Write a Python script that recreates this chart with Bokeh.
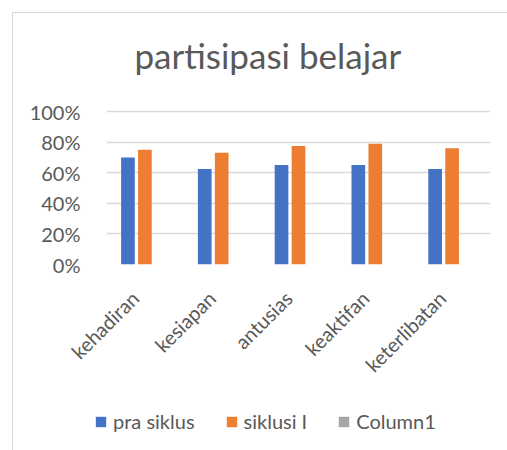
from bokeh.plotting import figure
from bokeh.models import (ColumnDataSource, Range1d, NumeralTickFormatter, Legend,
                          LegendItem, FixedTicker, LinearAxis)
from bokeh.transform import dodge
from bokeh.embed import file_html
from bokeh.resources import INLINE
import math

categories = ["kehadiran", "kesiapan", "antusias", "keaktifan", "keterlibatan"]
pra_siklus = [0.70, 0.625, 0.65, 0.65, 0.625]
siklus_1 = [0.75, 0.73, 0.775, 0.79, 0.76]
column1 = [0, 0, 0, 0, 0]
series_names = ["pra siklus", "siklusi I", "Column1"]
series_colors = ["#4472C4", "#ED7D31", "#A5A5A5"]
y_ticks = [0, 0.2, 0.4, 0.6, 0.8, 1.0]

n = len(categories)
idx = list(range(n))
src = ColumnDataSource(data=dict(xi=idx, cat=categories, pra=pra_siklus, sik=siklus_1, c1=column1))
cols = ["pra", "sik", "c1"]

FONT = "Lato"
GRAY_TXT = "#595959"

# frame extends a little above 100% so the title sits higher
p = figure(x_range=Range1d(-0.5, n - 0.5), y_range=(0, 1 + 20 / 153),
           width=495, height=383, output_backend="svg", toolbar_location=None,
           x_axis_location=None,
           min_border_left=93, min_border_right=18, min_border_top=78, min_border_bottom=132,
           title="partisipasi belajar")
p.margin = (12, 0, 0, 12)
p.styles = {"border-left": "1px solid #d9d9d9", "border-top": "1px solid #d9d9d9"}

w = 0.178
offs = [-0.221, 0.0, 0.221]
for c, col, off in zip(cols, series_colors, offs):
    p.vbar(x=dodge("xi", off), top=c, width=w, source=src,
           fill_color=col, line_color=None)

p.outline_line_color = None
p.background_fill_color = "white"
p.border_fill_color = "white"

p.title.text_font = FONT
p.title.text_font_size = "35px"
p.title.text_font_style = "normal"
p.title.text_color = GRAY_TXT
p.title.align = "left"
p.title.offset = 28
p.title.standoff = 32

p.xgrid.grid_line_color = None
p.ygrid.grid_line_color = "#d9d9d9"
p.ygrid.grid_line_width = 1.5
p.yaxis.ticker = FixedTicker(ticks=y_ticks)
p.yaxis.formatter = NumeralTickFormatter(format="0%")

# category label axis (slightly shifted like the original)
shift = 0.13
p.extra_x_ranges = {"lab": Range1d(start=-0.5 + shift, end=n - 0.5 + shift)}
xa = LinearAxis(x_range_name="lab", ticker=FixedTicker(ticks=idx),
                major_label_overrides={i: c for i, c in zip(idx, categories)})
p.add_layout(xa, "below")

for ax in (xa, p.yaxis[0]):
    ax.axis_line_color = None
    ax.major_tick_line_color = None
    ax.minor_tick_line_color = None
    ax.major_label_text_font = FONT
    ax.major_label_text_font_size = "20px"
    ax.major_label_text_color = GRAY_TXT
p.yaxis.major_label_standoff = 20
xa.major_label_orientation = math.pi / 4
xa.major_label_standoff = 24

# legend strip
lf = figure(width=495, height=55, output_backend="svg", toolbar_location=None,
            x_range=Range1d(-0.5, n - 0.5), y_range=(2, 3),
            x_axis_location=None, y_axis_location=None,
            min_border_left=0, min_border_right=0, min_border_top=0, min_border_bottom=0)
lf.margin = (0, 0, 0, 12)
lf.styles = {"border-left": "1px solid #d9d9d9"}
lf.grid.visible = False
lf.outline_line_color = None
lf.background_fill_color = "white"
lf.border_fill_color = "white"
items = []
for name, c, col in zip(series_names, cols, series_colors):
    r = lf.vbar(x="xi", top=c, width=0.1, source=src, fill_color=col, line_color=None)
    items.append(LegendItem(label=name, renderers=[r]))
legend = Legend(items=items, orientation="horizontal", location=(81, 17),
                glyph_width=13, glyph_height=13, label_standoff=6, spacing=30,
                padding=0, margin=0, border_line_color=None, background_fill_alpha=0,
                label_text_font=FONT, label_text_font_size="20px", label_text_color=GRAY_TXT)
lf.add_layout(legend, "center")

open("out.html", "w").write(file_html([p, lf], INLINE))
